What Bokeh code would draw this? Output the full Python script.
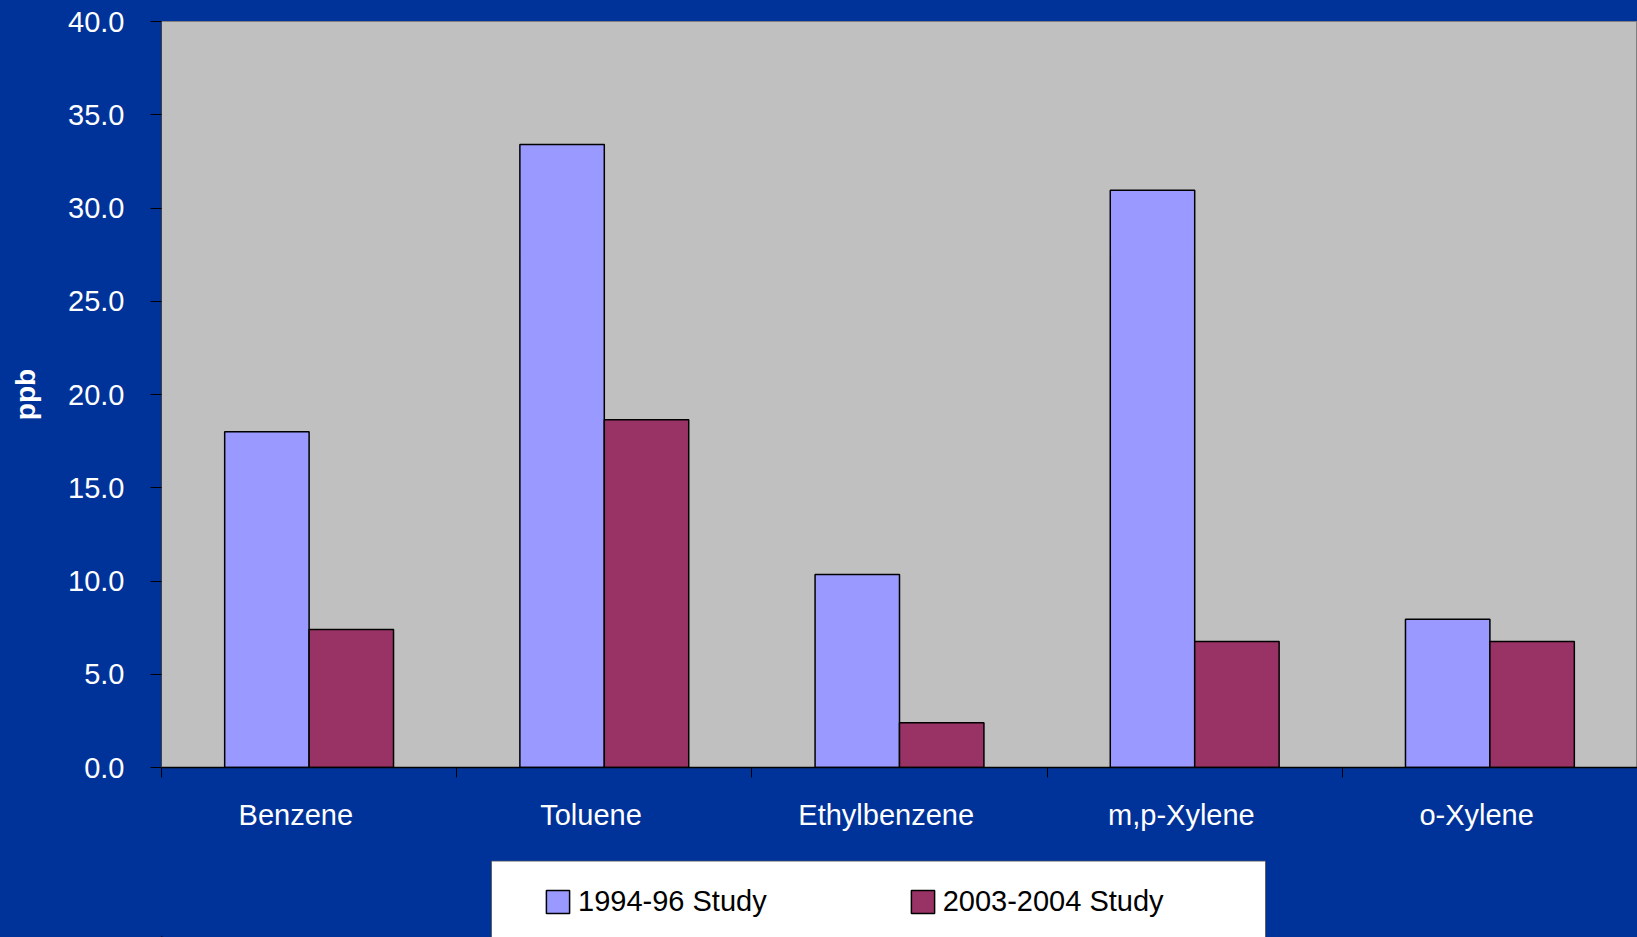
import numpy as np
from bokeh.plotting import figure
from bokeh.layouts import column
from bokeh.models import (Range1d, FixedTicker, PrintfTickFormatter, Legend, LegendItem,
                          ColumnDataSource)
from bokeh.embed import file_html
from bokeh.resources import INLINE

categories = ["Benzene", "Toluene", "Ethylbenzene", "m,p-Xylene", "o-Xylene"]
study_1994 = [18.0, 33.4, 10.35, 30.95, 7.95]
study_2003 = [7.4, 18.65, 2.4, 6.75, 6.75]
series_names = ["1994-96 Study", "2003-2004 Study"]
y_ticks = [0, 5, 10, 15, 20, 25, 30, 35, 40]

BG = "#003399"
FONT = "Liberation Sans"
C1 = "#9999FF"
C2 = "#993366"

n = len(categories)
centers = np.arange(n) + 0.5
bar_w = 0.286
label_shift = 0.045  # category labels sit slightly left of group centre, as in the original

p = figure(width=1637, height=860, output_backend="svg", toolbar_location=None,
           x_range=Range1d(0, n), y_range=Range1d(0, 40),
           min_border_left=161, min_border_right=0, min_border_top=21, min_border_bottom=93)
p.background_fill_color = "#C0C0C0"
p.border_fill_color = BG
p.outline_line_color = "#808080"
p.grid.visible = False

src = ColumnDataSource(dict(x1=centers - bar_w / 2, x2=centers + bar_w / 2,
                            a=study_1994, b=study_2003))
p.vbar(x="x1", top="a", width=bar_w, source=src, fill_color=C1,
       line_color="black", line_width=1.5)
p.vbar(x="x2", top="b", width=bar_w, source=src, fill_color=C2,
       line_color="black", line_width=1.5)

# y axis
ya = p.yaxis[0]
ya.ticker = FixedTicker(ticks=y_ticks)
ya.formatter = PrintfTickFormatter(format="%.1f")
ya.major_label_text_color = "white"
ya.major_label_text_font = FONT
ya.major_label_text_font_size = "29px"
ya.major_tick_out = 11
ya.major_tick_in = 0
ya.minor_tick_out = 0
ya.minor_tick_in = 0
ya.major_tick_line_color = "black"
ya.axis_line_color = "#404040"
ya.major_label_standoff = 26
ya.axis_label = "ppb"
ya.axis_label_text_color = "white"
ya.axis_label_text_font = FONT
ya.axis_label_text_font_size = "28px"
ya.axis_label_text_font_style = "bold"
ya.axis_label_standoff = 24

# x axis: labels near centres, ticks at category boundaries
xa = p.xaxis[0]
label_pos = [float(c - label_shift) for c in centers]
xa.ticker = FixedTicker(ticks=label_pos, minor_ticks=list(range(n + 1)))
xa.major_label_overrides = {lp: cat for lp, cat in zip(label_pos, categories)}
xa.major_label_text_color = "white"
xa.major_label_text_font = FONT
xa.major_label_text_font_size = "29px"
xa.major_tick_out = 0
xa.major_tick_in = 0
xa.minor_tick_out = 10
xa.minor_tick_in = 0
xa.minor_tick_line_color = "black"
xa.axis_line_color = "black"
xa.axis_line_width = 1.5
xa.major_label_standoff = 21

# legend strip below the chart (pixel-unit ranges so the white box can be placed)
p2 = figure(width=1637, height=77, output_backend="svg", toolbar_location=None,
            x_range=Range1d(161, 1637), y_range=Range1d(0, 77),
            x_axis_type=None, y_axis_type=None,
            min_border_left=161, min_border_right=0, min_border_top=0, min_border_bottom=0)
p2.background_fill_color = BG
p2.border_fill_color = BG
p2.outline_line_color = None
p2.grid.visible = False
p2.quad(left=[491], right=[1265], top=[76.5], bottom=[-5],
        fill_color="white", line_color="#606060", line_width=1)
# legend-only renderers (kept outside the visible range)
legend_src = ColumnDataSource(dict(x=[-10000.0], top=[1.0]))
l1 = p2.vbar(x="x", top="top", width=1, source=legend_src, fill_color=C1,
             line_color="black", line_width=1.5)
l2 = p2.vbar(x="x", top="top", width=1, source=legend_src, fill_color=C2,
             line_color="black", line_width=1.5)

legend = Legend(items=[LegendItem(label=series_names[0], renderers=[l1]),
                       LegendItem(label=series_names[1], renderers=[l2])],
                orientation="horizontal", location=(382, 19),
                border_line_color=None, background_fill_alpha=0,
                padding=0, margin=0, spacing=141,
                glyph_width=29, glyph_height=29, label_standoff=6, label_height=23,
                label_text_font=FONT, label_text_font_size="29px",
                label_text_color="black")
p2.add_layout(legend)

layout = column(p, p2, spacing=0)
html = file_html(layout, INLINE)
html = html.replace("</head>",
                    "<style>html, body {margin:0; padding:0; background:%s;}</style></head>" % BG, 1)
open("out.html", "w").write(html)
